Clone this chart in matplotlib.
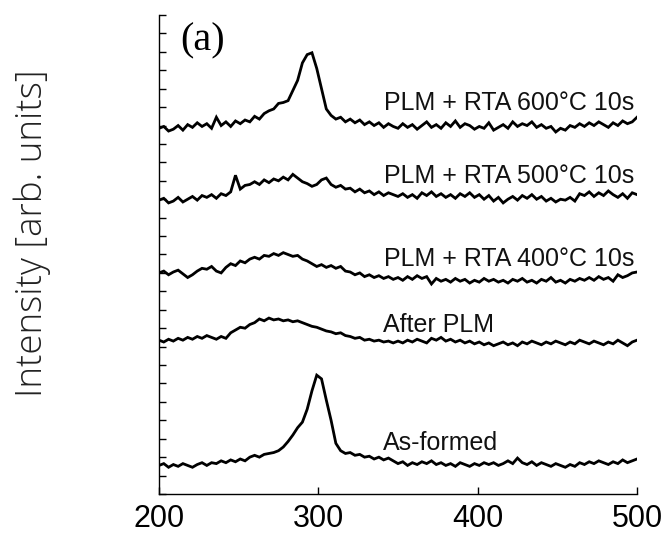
import numpy as np
import matplotlib
matplotlib.use("Agg")
import matplotlib.pyplot as plt

# Raman shift axis (cm^-1), one sample every 3 units
shift = np.arange(200, 501, 3)

# Stacked spectra (arbitrary units, as plotted)
as_formed = [
    31, 33, 29, 32, 30, 33, 31, 29, 32, 34,
    31, 34, 33, 36, 34, 37, 35, 38, 36, 40,
    42, 40, 43, 44, 45, 47, 51, 57, 64, 72,
    78, 92, 112, 129, 125, 102, 80, 55, 47, 44,
    45, 42, 43, 40, 41, 38, 40, 37, 39, 36,
    33, 35, 31, 34, 32, 35, 33, 36, 32, 34,
    31, 33, 30, 34, 32, 30, 33, 31, 34, 32,
    34, 31, 33, 36, 33, 39, 34, 32, 35, 31,
    34, 32, 30, 33, 31, 29, 32, 30, 34, 32,
    35, 33, 36, 34, 32, 35, 33, 37, 34, 36,
    38,
]
after_plm = [
    167, 165, 168, 166, 169, 167, 170, 168, 171, 169,
    172, 170, 168, 171, 169, 175, 178, 181, 180, 184,
    186, 190, 188, 191, 189, 190, 188, 189, 187, 188,
    186, 184, 182, 181, 179, 177, 176, 174, 175, 172,
    171, 169, 170, 167, 168, 166, 167, 165, 166, 164,
    166, 164, 167, 165, 168, 166, 164, 169, 167, 170,
    166, 168, 165, 167, 164, 166, 163, 165, 162, 164,
    161, 163, 165, 162, 164, 161, 165, 163, 166, 164,
    162, 165, 163, 166, 164, 162, 165, 163, 167, 165,
    163, 166, 164, 162, 165, 163, 167, 164, 161, 165,
    167,
]
rta400 = [
    240, 242, 238, 241, 243, 239, 235, 238, 242, 245,
    244, 247, 242, 240, 246, 250, 248, 253, 251, 255,
    257, 255, 259, 258, 261, 259, 262, 260, 258, 259,
    255, 253, 250, 247, 249, 246, 248, 245, 247, 242,
    241, 238, 240, 236, 238, 235, 237, 234, 236, 233,
    235, 232, 236, 233, 237, 234, 236, 228, 234, 231,
    233, 230, 234, 231, 233, 229, 232, 230, 234, 231,
    233, 230, 232, 229, 233, 231, 234, 230, 232, 229,
    233, 231, 235, 230, 232, 229, 233, 231, 234, 232,
    235, 232, 236, 233, 235, 231, 238, 235, 237, 240,
    241,
]
rta500 = [
    319, 321, 316, 318, 322, 317, 320, 323, 319, 324,
    322, 325, 321, 326, 324, 328, 346, 331, 335, 336,
    339, 336, 341, 338, 342, 340, 344, 341, 347, 343,
    339, 337, 334, 336, 341, 343, 336, 333, 335, 331,
    332, 328, 331, 327, 329, 325, 328, 324, 327, 325,
    323, 326, 322, 325, 321, 327, 324, 328, 323, 326,
    322, 325, 321, 326, 323, 327, 322, 325, 320, 324,
    318, 322, 316, 320, 323, 319, 324, 321, 325, 320,
    323, 318, 321, 317, 320, 319, 322, 318, 326, 324,
    328, 323, 327, 324, 329, 325, 322, 326, 321, 327,
    325,
]
rta600 = [
    397, 399, 394, 396, 400, 395, 401, 398, 403, 399,
    402, 397, 409, 400, 404, 399, 405, 402, 406, 404,
    410, 407, 413, 416, 418, 424, 425, 427, 438, 449,
    468, 477, 479, 462, 440, 418, 411, 407, 409, 404,
    407, 403, 406, 401, 404, 400, 403, 398, 402, 399,
    397, 402, 398, 401, 396, 400, 404, 398, 401, 397,
    403, 399, 405, 398, 402, 400, 396, 399, 397, 403,
    395, 398, 401, 397, 404, 399, 402, 400, 404, 398,
    401, 397, 399, 393, 397, 395, 400, 398, 402, 399,
    403, 400, 404, 401, 398, 403, 400, 405, 402, 404,
    409,
]

labels = ["As-formed", "After PLM", "PLM + RTA 400°C 10s",
          "PLM + RTA 500°C 10s", "PLM + RTA 600°C 10s"]
series = [as_formed, after_plm, rta400, rta500, rta600]

# label anchor positions (x, y, horizontal alignment)
label_x = [340.5, 340.5, 498.5, 498.5, 498.5]
label_y = [48, 176, 248, 338, 417]
label_ha = ["left", "left", "right", "right", "right"]

xticks = [200, 300, 400, 500]
yticks = np.arange(0, 521, 20)

fig = plt.figure(figsize=(6.64, 5.33), dpi=100)
ax = fig.add_axes([159 / 664, 39 / 533, 478 / 664, 479 / 533])

for s in series:
    ax.plot(shift, s, color="black", lw=2.0, solid_joinstyle="miter")

sans = ["Liberation Sans", "DejaVu Sans"]
for lab, lx, ly, ha in zip(labels, label_x, label_y, label_ha):
    ax.text(lx, ly, lab, ha=ha, va="baseline", fontsize=18,
            family=sans, color="#111111")

ax.text(0.045, 0.985, "(a)", transform=ax.transAxes, ha="left", va="top",
        fontsize=29, family=["Liberation Serif", "DejaVu Serif"])

ax.set_xlim(200, 500)
ax.set_ylim(0, 520)
ax.set_xticks(xticks)
ax.set_xticklabels([str(t) for t in xticks],
                   family=["DejaVu Sans Condensed", "Liberation Sans", "DejaVu Sans"],
                   fontsize=22)
ax.set_yticks(yticks)
ax.set_yticklabels([])
ax.tick_params(axis="both", direction="in", length=5, width=1, color="black")
ax.tick_params(axis="x", pad=7)

for side in ["top", "right"]:
    ax.spines[side].set_visible(False)
for side in ["left", "bottom"]:
    ax.spines[side].set_linewidth(1.0)

fig.text(32 / 664, 1 - 233 / 533, "Intensity [arb. units]", rotation=90,
         ha="center", va="center", fontsize=26.5, fontweight="light",
         family=["Open Sans", "Liberation Sans", "DejaVu Sans"], color="#222222")

fig.savefig("out.png", dpi=100)
